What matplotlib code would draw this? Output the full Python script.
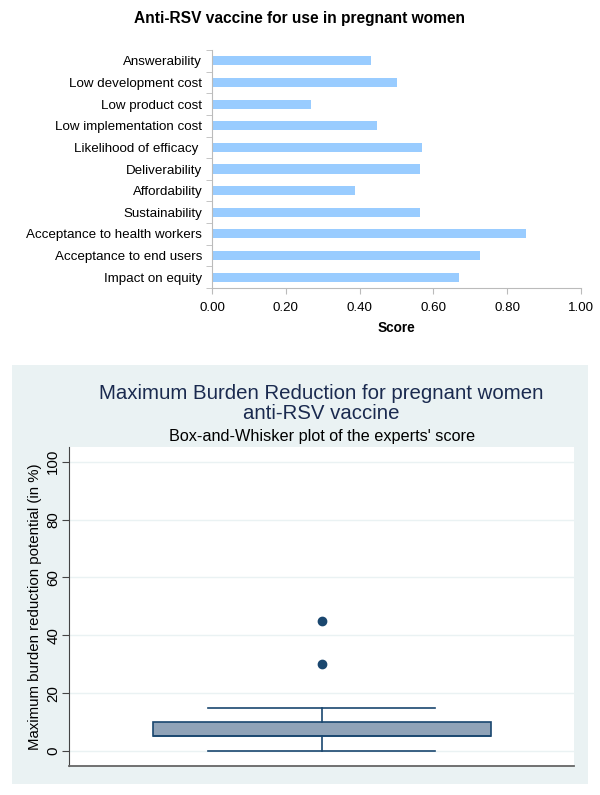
import matplotlib.pyplot as plt
from matplotlib.patches import Rectangle
import numpy as np

plt.rcParams['font.family'] = ['Liberation Sans', 'DejaVu Sans']

# top chart data (top to bottom as shown)
criteria = ['Answerability', 'Low development cost', 'Low product cost',
            'Low implementation cost', 'Likelihood of efficacy ', 'Deliverability',
            'Affordability', 'Sustainability', 'Acceptance to health workers',
            'Acceptance to end users', 'Impact on equity']
scores = [0.432, 0.502, 0.267, 0.446, 0.569, 0.563, 0.387, 0.563, 0.851, 0.726, 0.669]
score_ticks = [0.0, 0.2, 0.4, 0.6, 0.8, 1.0]

# bottom chart data (box-and-whisker summary)
box_stats = {'whislo': 0, 'q1': 5, 'med': 5, 'q3': 10, 'whishi': 15}
outliers = [30, 45]
pct_ticks = [0, 20, 40, 60, 80, 100]

fig = plt.figure(figsize=(6, 7.95), dpi=100)

# ---- top: horizontal bar chart ----
ax1 = fig.add_axes([0.3533, 0.6377, 0.615, 0.2994])
ypos = np.arange(len(criteria))[::-1]
ax1.barh(ypos, scores, height=0.42, color='#99CCFF')
ax1.set_xlim(0, 1.0)
ax1.set_ylim(-0.5, len(criteria) - 0.5)
ax1.set_yticks(ypos)
ax1.set_yticklabels(criteria, fontsize=9.6)
ax1.set_yticks(np.arange(len(criteria) + 1) - 0.5, minor=True)
ax1.tick_params(axis='y', which='major', length=0, pad=7)
ax1.tick_params(axis='y', which='minor', length=4, color='#BBBBBB')
ax1.set_xticks(score_ticks)
ax1.set_xticklabels([f'{t:.2f}' for t in score_ticks], fontsize=9.6)
ax1.tick_params(axis='x', length=4, color='#BBBBBB', pad=6)
for s in ['top', 'right']:
    ax1.spines[s].set_visible(False)
for s in ['left', 'bottom']:
    ax1.spines[s].set_color('#BBBBBB')
ax1.set_xlabel('Score', fontsize=9.8, fontweight='bold', labelpad=5)
fig.text(0.5, 0.977, 'Anti-RSV vaccine for use in pregnant women',
         ha='center', va='center', fontsize=11.2, fontweight='bold')

# ---- bottom: Stata-like box plot ----
fig.add_artist(Rectangle((12 / 600, 11 / 795), 576 / 600, 419 / 795,
                         transform=fig.transFigure, facecolor='#EAF2F3',
                         edgecolor='none', zorder=-5))
ax2 = fig.add_axes([0.1155, 0.0365, 0.8412, 0.4016])
ax2.set_zorder(2)
ax2.set_facecolor('white')
for t in pct_ticks:
    ax2.axhline(t, color='#EAF2F3', lw=1, zorder=0)
navy = '#1A476F'
box_stats['fliers'] = outliers
ax2.bxp([box_stats], positions=[0.5], widths=0.67, capwidths=0.45,
        patch_artist=True,
        boxprops=dict(facecolor='#90A3B8', edgecolor=navy, lw=1.2),
        whiskerprops=dict(color=navy, lw=1.2),
        capprops=dict(color=navy, lw=1.2),
        medianprops=dict(color=navy, lw=1.2),
        flierprops=dict(marker='o', markerfacecolor=navy, markeredgecolor=navy,
                        markersize=6))
ax2.set_xlim(0, 1)
ax2.set_ylim(-5.2, 105.2)
ax2.set_xticks([])
ax2.set_yticks(pct_ticks)
ax2.set_yticklabels([str(t) for t in pct_ticks], rotation=90, va='center',
                    fontsize=10.8)
ax2.tick_params(axis='y', length=5, color='#444444', pad=1.5)
for s in ['top', 'right']:
    ax2.spines[s].set_visible(False)
ax2.spines['left'].set_color('#444444')
ax2.spines['bottom'].set_color('#666666')
ax2.spines['bottom'].set_linewidth(1.3)
ax2.set_ylabel('Maximum burden reduction potential (in %)', fontsize=10.8,
               labelpad=3)
fig.text(0.536, 0.4925, 'Maximum Burden Reduction for pregnant women\nanti-RSV vaccine',
         ha='center', va='center', fontsize=14.7, color='#1A2A4F', linespacing=1.1)
fig.text(0.536, 0.4507, "Box-and-Whisker plot of the experts' score",
         ha='center', va='center', fontsize=11.7, color='black')

fig.savefig('out.png', dpi=100)
